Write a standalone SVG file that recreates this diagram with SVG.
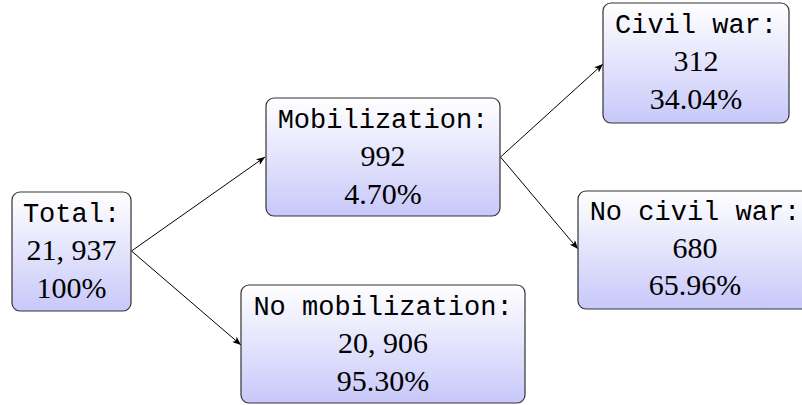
<svg xmlns="http://www.w3.org/2000/svg" width="802" height="405" viewBox="0 0 802 405">
  <style>
    .box { fill: url(#grad); stroke: #333333; stroke-width: 1.2; }
    .mono { font-family: "Liberation Mono", "DejaVu Sans Mono", monospace; font-size: 27px; fill: #000; text-anchor: middle; }
    .num { font-family: "Liberation Serif", "DejaVu Serif", serif; font-size: 30px; fill: #000; text-anchor: middle; }
    .edge { stroke: #000; stroke-width: 1; fill: none; marker-end: url(#arr); }
  </style>
  <defs>
    <linearGradient id="grad" x1="0" y1="0" x2="0" y2="1">
      <stop offset="0" stop-color="#ffffff"/>
      <stop offset="1" stop-color="#c8c8fa"/>
    </linearGradient>
    <marker id="arr" viewBox="0 0 10 8" refX="10" refY="4" markerWidth="9" markerHeight="7" orient="auto" markerUnits="userSpaceOnUse">
      <path d="M0,0 L10,4 L0,8 L2.5,4 z" fill="#000"/>
    </marker>
  </defs>

  <g id="connectors">
    <line class="edge" x1="131.5" y1="251" x2="265" y2="157"/>
    <line class="edge" x1="131.5" y1="251" x2="241" y2="345"/>
    <line class="edge" x1="500.5" y1="157" x2="603" y2="64"/>
    <line class="edge" x1="500.5" y1="157" x2="578" y2="249"/>
  </g>

  <g id="total">
    <rect class="box" x="12" y="192" width="119" height="119" rx="8"/>
    <text class="mono" x="71.5" y="222">Total:</text>
    <text class="num" x="71.5" y="260">21, 937</text>
    <text class="num" x="71.5" y="298">100%</text>
  </g>

  <g id="mobilization">
    <rect class="box" x="266" y="98" width="234" height="118" rx="8"/>
    <text class="mono" x="383" y="128">Mobilization:</text>
    <text class="num" x="383" y="166">992</text>
    <text class="num" x="383" y="204">4.70%</text>
  </g>

  <g id="no-mobilization">
    <rect class="box" x="241" y="285" width="284" height="118" rx="8"/>
    <text class="mono" x="383" y="315">No mobilization:</text>
    <text class="num" x="383" y="353">20, 906</text>
    <text class="num" x="383" y="391">95.30%</text>
  </g>

  <g id="civil-war">
    <rect class="box" x="603" y="3" width="186" height="120" rx="8"/>
    <text class="mono" x="696" y="33">Civil war:</text>
    <text class="num" x="696" y="71">312</text>
    <text class="num" x="696" y="109">34.04%</text>
  </g>

  <g id="no-civil-war">
    <rect class="box" x="578" y="191" width="236" height="118" rx="8"/>
    <text class="mono" x="695" y="220">No civil war:</text>
    <text class="num" x="695" y="258">680</text>
    <text class="num" x="695" y="295">65.96%</text>
  </g>
</svg>
